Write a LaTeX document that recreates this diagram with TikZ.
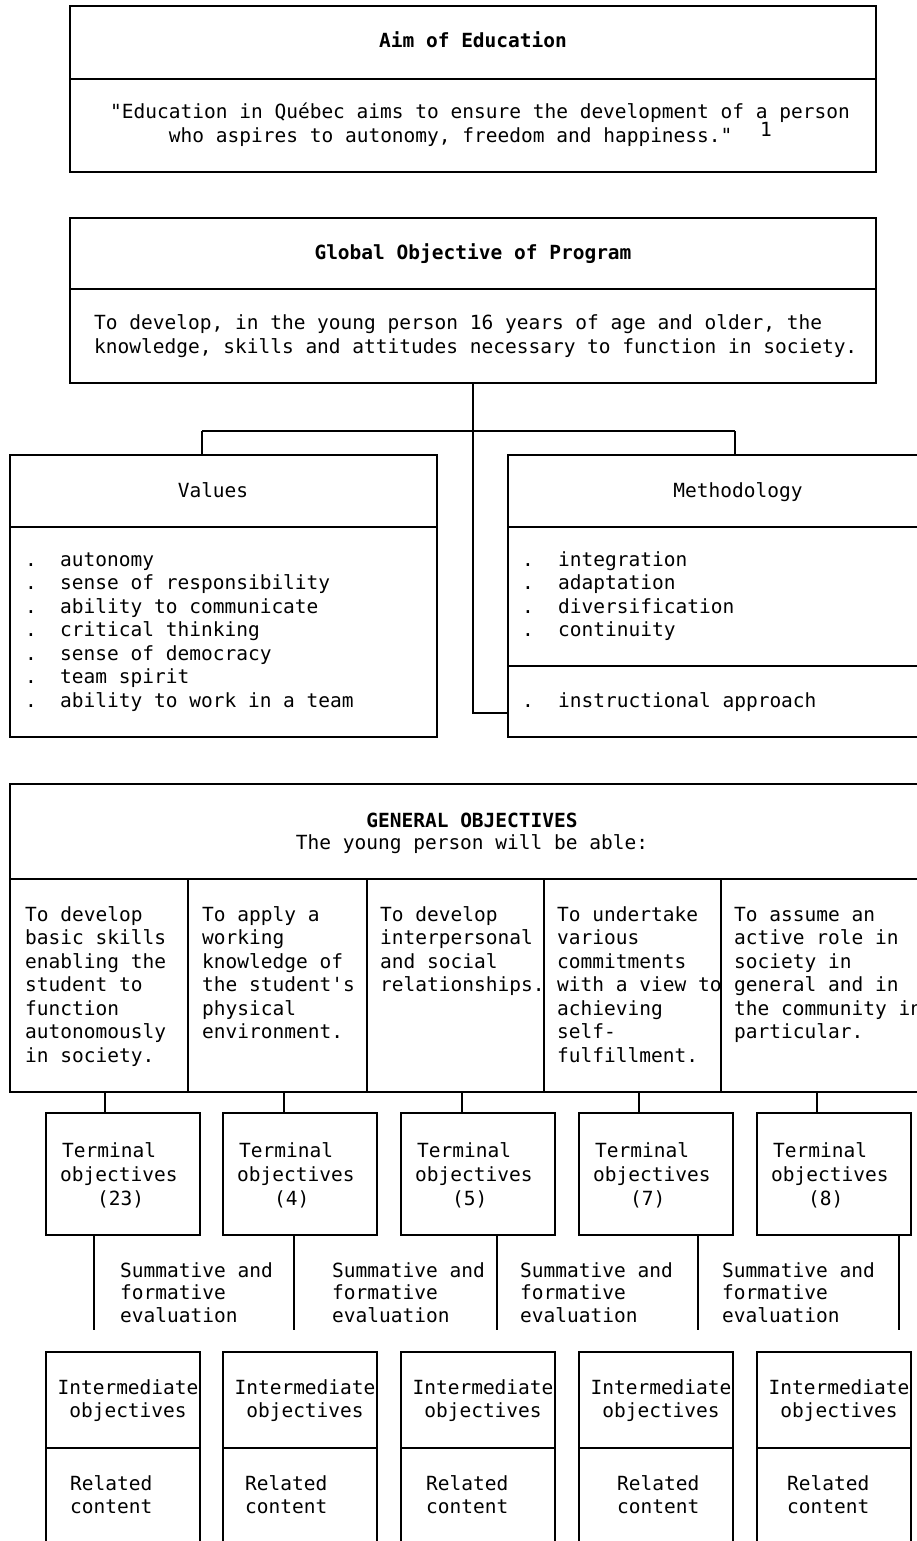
\documentclass[tikz,border=0pt]{standalone}
\usepackage{fontspec}
\setmonofont{DejaVu Sans Mono}
\begin{document}
\begin{tikzpicture}[x=1pt,y=-1pt,
  box/.style={draw, line width=1.7pt, rectangle, inner sep=0pt},
  lnk/.style={line width=1.7pt},
  txt/.style={inner sep=0pt, anchor=base west, font=\fontsize{19.5}{23.5}\selectfont\ttfamily},
  ctxt/.style={txt, anchor=base},
  btxt/.style={inner sep=0pt, anchor=base, font=\fontsize{19.5}{23.5}\selectfont\ttfamily\bfseries}]
\useasboundingbox (0,0) rectangle (917,1541);

% ---- Aim of Education
\node[box, minimum width=806pt, minimum height=166pt] (aim) at (473,89) {};
\draw[lnk] (aim.west |- 0,79) -- (aim.east |- 0,79);
\node[btxt] (aimt) at (473,48) {Aim of Education};
\node[txt] (aim1) at (110,119) {"Education in Québec aims to ensure the development of a person};
\node[txt] (aim2) at (168.75,143) {who aspires to autonomy, freedom and happiness."};
\node[txt] (fn) at (760,137) {1};

% ---- Global objective
\node[box, minimum width=806pt, minimum height=165pt] (glob) at (473,300.5) {};
\draw[lnk] (glob.west |- 0,289) -- (glob.east |- 0,289);
\node[btxt] (globt) at (473,259) {Global Objective of Program};
\node[txt] (glob1) at (94,329) {To develop, in the young person 16 years of age and older, the};
\node[txt] (glob2) at (94,353) {knowledge, skills and attitudes necessary to function in society.};

% ---- Values
\node[box, minimum width=427pt, minimum height=282pt] (vals) at (223.5,596) {};
\draw[lnk] (vals.west |- 0,527) -- (vals.east |- 0,527);
\node[ctxt] (valst) at (213,497) {Values};
\foreach \lbl [count=\i] in {autonomy, sense of responsibility, ability to communicate, critical thinking, sense of democracy, team spirit, ability to work in a team}{
  \node[txt, name=vb\i] at (25,{566+23.5*(\i-1)}) {.};
  \node[txt, name=vt\i] at (60,{566+23.5*(\i-1)}) {\lbl};
}

% ---- Methodology
\node[box, minimum width=427pt, minimum height=282pt] (meth) at (721.5,596) {};
\draw[lnk] (meth.west |- 0,527) -- (meth.east |- 0,527);
\draw[lnk] (meth.west |- 0,666) -- (meth.east |- 0,666);
\node[ctxt] (metht) at (738,497) {Methodology};
\foreach \lbl [count=\i] in {integration, adaptation, diversification, continuity}{
  \node[txt, name=mb\i] at (522,{566+23.5*(\i-1)}) {.};
  \node[txt, name=mt\i] at (558,{566+23.5*(\i-1)}) {\lbl};
}
\node[txt] (mb5) at (522,707) {.};
\node[txt] (mt5) at (558,707) {instructional approach};

% ---- connectors from global objective
\coordinate (bl) at (202,431);
\coordinate (br) at (735,431);
\coordinate (turn) at (473,713);
\draw[lnk] (bl) -- (br);
\draw[lnk] (bl) -- (bl |- vals.north);
\draw[lnk] (br) -- (br |- meth.north);
\draw[lnk] (glob.south) -- (turn) -- (turn -| meth.west);

% ---- General objectives
\node[box, minimum width=925pt, minimum height=308pt] (gen) at (472.5,938) {};
\draw[lnk] (gen.west |- 0,879) -- (gen.east |- 0,879);
\foreach \x in {188,367,544,721}{
  \draw[lnk] (\x,879) -- (\x,1092);
}
\node[btxt] (gent) at (472,827) {GENERAL OBJECTIVES};
\node[ctxt] (gens) at (472,849) {The young person will be able:};

\foreach \lbl [count=\i] in {To develop, basic skills, enabling the, student to, function, autonomously, in society.}
  \node[txt, name=ca\i] at (25,{921+23.5*(\i-1)}) {\lbl};
\foreach \lbl [count=\i] in {To apply a, working, knowledge of, the student's, physical, environment.}
  \node[txt, name=cb\i] at (202,{921+23.5*(\i-1)}) {\lbl};
\foreach \lbl [count=\i] in {To develop, interpersonal, and social, relationships.}
  \node[txt, name=cc\i] at (380,{921+23.5*(\i-1)}) {\lbl};
\foreach \lbl [count=\i] in {To undertake, various, commitments, with a view to, achieving, self-, fulfillment.}
  \node[txt, name=cd\i] at (557,{921+23.5*(\i-1)}) {\lbl};
\foreach \lbl [count=\i] in {To assume an, active role in, society in, general and in, the community in, particular.}
  \node[txt, name=ce\i] at (734,{921+23.5*(\i-1)}) {\lbl};

% ---- Terminal objectives
\foreach \L/\n/\gx [count=\i] in {46/23/105, 223/4/284, 401/5/462, 579/7/639, 757/8/817}{
  \node[box, minimum width=154pt, minimum height=122pt, name=t\i] at (\L+77,1174) {};
  \node[txt, name=ta\i] at (\L+16,1157) {Terminal};
  \node[txt, name=tb\i] at (\L+14,1181) {objectives};
  \node[txt, name=tc\i] at (\L+51,1205) {(\n)};
  \coordinate (g\i) at (\gx,1092);
  \draw[lnk] (g\i) -- (g\i |- t\i.north);
}

% ---- Evaluation
\foreach \ex [count=\i] in {94,294,497,698,899}{
  \coordinate (e\i) at (\ex,1330);
  \draw[lnk] (e\i |- t\i.south) -- (e\i);
}
\foreach \tx [count=\i] in {120,332,520,722}{
  \node[txt, name=ea\i] at (\tx,1277) {Summative and};
  \node[txt, name=eb\i] at (\tx,1299.5) {formative};
  \node[txt, name=ec\i] at (\tx,1322) {evaluation};
}

% ---- Intermediate objectives / related content
\foreach \L/\R [count=\i] in {46/70, 223/245, 401/426, 579/617, 757/787}{
  \node[box, minimum width=154pt, minimum height=208pt, name=m\i] at (\L+77,1456) {};
  \draw[lnk] (m\i.west |- 0,1448) -- (m\i.east |- 0,1448);
  \node[ctxt, name=ma\i] at (\L+82,1394) {Intermediate};
  \node[ctxt, name=mb\i] at (\L+82,1417) {objectives};
  \node[txt, name=mc\i] at (\R,1490) {Related};
  \node[txt, name=md\i] at (\R,1513) {content};
}
\end{tikzpicture}
\end{document}
